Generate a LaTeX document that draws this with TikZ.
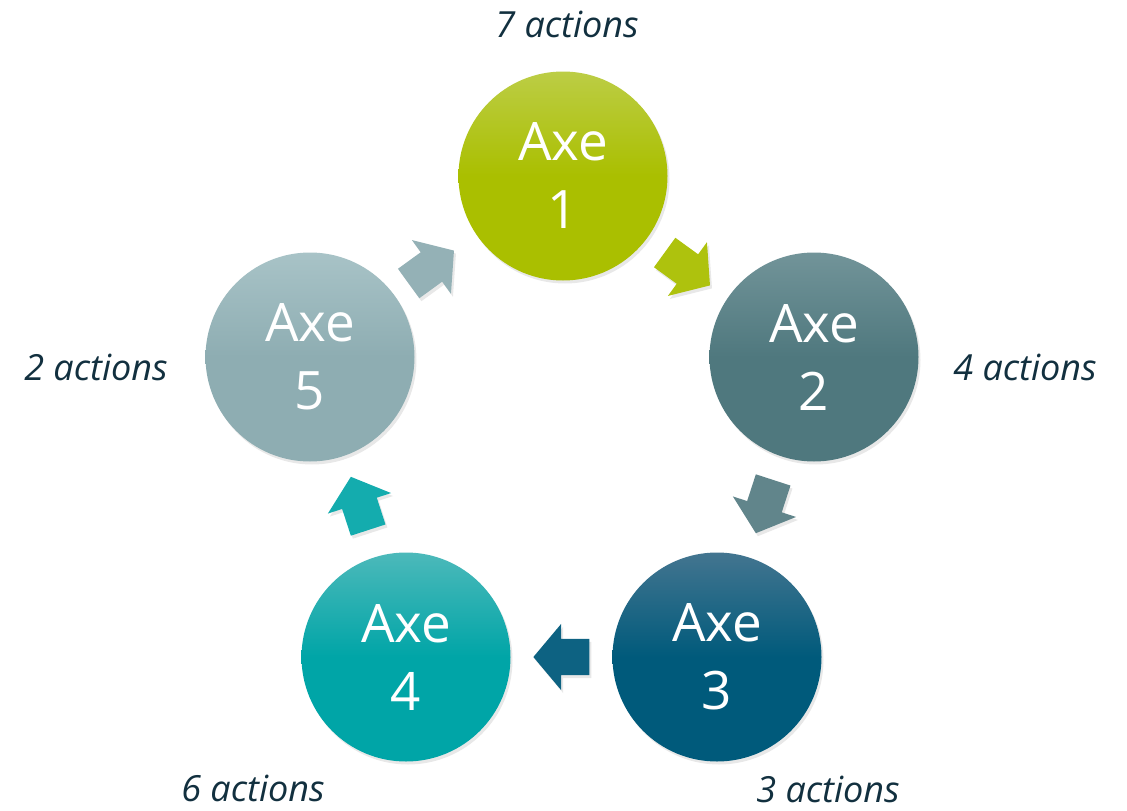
\documentclass[tikz,border=0pt]{standalone}
\usepackage{fontspec}
\setmainfont{Open Sans}
\usetikzlibrary{shapes.arrows,shadows}

\definecolor{axeA}{HTML}{AABF00}
\definecolor{axeAtop}{HTML}{BCCD45}
\definecolor{axeB}{HTML}{4F787E}
\definecolor{axeBtop}{HTML}{729499}
\definecolor{axeC}{HTML}{005A7B}
\definecolor{axeCtop}{HTML}{437590}
\definecolor{axeD}{HTML}{00A5A7}
\definecolor{axeDtop}{HTML}{4CB9BA}
\definecolor{axeE}{HTML}{8EADB2}
\definecolor{axeEtop}{HTML}{A8C3C7}
\definecolor{labelink}{HTML}{12303F}

\tikzset{
    axe/.style={circle, minimum size=209pt, inner sep=0pt, text=white, align=center,
        font=\fontsize{53}{68}\selectfont,
        drop shadow={opacity=0.18, shadow xshift=2pt, shadow yshift=-3pt}},
    cyclearrow/.style={single arrow, minimum height=56pt, minimum width=0pt,
        inner xsep=0pt, inner ysep=18pt,
        single arrow head extend=15pt, single arrow tip angle=100,
        drop shadow={opacity=0.18, shadow xshift=2pt, shadow yshift=-3pt}},
    count/.style={text=labelink, font=\fontsize{36}{40}\selectfont\itshape}
}

\begin{document}
\begin{tikzpicture}[x=1pt,y=1pt]
        \useasboundingbox (0,0) rectangle (1127,-811);

        % les cinq axes
        \node[axe, top color=axeAtop, bottom color=axeA, middle color=axeA] (axe1) at (563,-176) {Axe\\1};
        \node[axe, top color=axeBtop, bottom color=axeB, middle color=axeB] (axe2) at (814,-357) {Axe\\2};
        \node[axe, top color=axeCtop, bottom color=axeC, middle color=axeC] (axe3) at (717,-657) {Axe\\3};
        \node[axe, top color=axeDtop, bottom color=axeD, middle color=axeD] (axe4) at (406,-657) {Axe\\4};
        \node[axe, top color=axeEtop, bottom color=axeE, middle color=axeE] (axe5) at (310,-357) {Axe\\5};

        % fleches du cycle
        \node[cyclearrow, fill=axeA!95!white, rotate=-36, xshift=-6pt] (fl12) at (686,-268) {};
        \node[cyclearrow, fill=axeB!90!white, rotate=-108, xshift=-6pt] (fl23) at (765,-505) {};
        \node[cyclearrow, fill=axeC!95!white, rotate=180, xshift=-6pt] (fl34) at (563,-657) {};
        \node[cyclearrow, fill=axeD!92!white, rotate=108, xshift=-6pt] (fl45) at (360,-505) {};
        \node[cyclearrow, fill=axeE!95!white, rotate=36, xshift=-6pt] (fl51) at (430,-268) {};

        % nombre d'actions
        \node[count] (nb1) at (567,-24) {7 actions};
        \node[count] (nb2) at (1025,-367) {4 actions};
        \node[count] (nb3) at (828,-789) {3 actions};
        \node[count] (nb4) at (253,-788) {6 actions};
        \node[count] (nb5) at (96,-367) {2 actions};
    \end{tikzpicture}
\end{document}
